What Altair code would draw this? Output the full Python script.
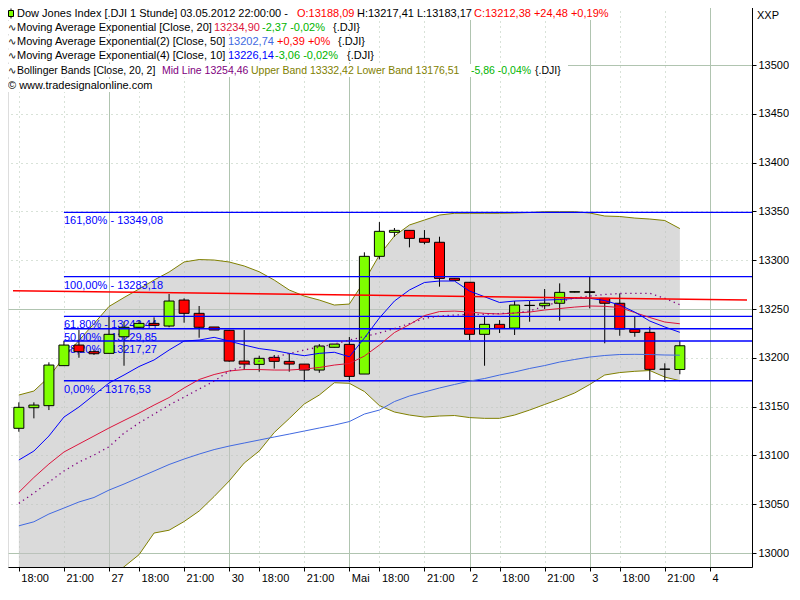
import json
import altair as alt
import pandas as pd

# ---------------- data ----------------
bar_index = list(range(45))
opens = [13127.8, 13148.9, 13151.0, 13192.0, 13213.1, 13206.3, 13204.6, 13221.6, 13231.3, 13235.3,
         13232.6, 13259.2, 13245.6, 13231.6, 13228.2, 13196.7, 13193.3, 13200.5, 13196.4, 13193.6,
         13187.5, 13210.8, 13213.8, 13183.4, 13304.0, 13328.6, 13330.6, 13322.4, 13318.4, 13281.5,
         13277.4, 13224.1, 13234.3, 13230.5, 13253.8, 13253.4, 13255.9, 13267.3, 13267.7, 13261.0,
         13255.9, 13229.2, 13226.1, 13188.2, 13188.09]
highs = [13154.4, 13154.4, 13195.4, 13217.5, 13228.5, 13208.0, 13243.1, 13237.0, 13238.0, 13241.5,
         13265.4, 13261.0, 13253.1, 13231.6, 13228.5, 13228.5, 13202.2, 13202.9, 13204.6, 13193.6,
         13214.1, 13214.1, 13221.3, 13308.1, 13339.1, 13333.0, 13330.6, 13330.9, 13324.1, 13281.5,
         13277.4, 13242.1, 13238.7, 13258.2, 13258.2, 13270.5, 13276.3, 13268.0, 13283.1, 13261.0,
         13266.0, 13242.1, 13231.9, 13194.4, 13217.41]
lows = [13124.3, 13138.0, 13146.5, 13192.0, 13200.1, 13203.0, 13204.6, 13191.9, 13230.0, 13232.6,
        13231.3, 13236.0, 13220.6, 13228.5, 13196.0, 13187.5, 13185.8, 13189.0, 13185.8, 13175.5,
        13184.7, 13210.8, 13175.5, 13183.4, 13300.9, 13324.1, 13313.2, 13316.3, 13272.9, 13279.0,
        13218.2, 13191.9, 13225.4, 13223.4, 13237.0, 13250.0, 13238.0, 13267.0, 13250.7, 13214.9,
        13222.6, 13221.6, 13177.3, 13175.5, 13183.17]
closes = [13149.3, 13151.6, 13192.6, 13213.1, 13206.3, 13204.2, 13224.1, 13231.3, 13235.3, 13233.3,
          13258.2, 13245.6, 13231.3, 13228.5, 13196.7, 13193.6, 13199.5, 13196.4, 13193.6, 13187.5,
          13212.1, 13214.1, 13181.0, 13304.0, 13329.6, 13330.6, 13322.4, 13318.4, 13281.4, 13279.4,
          13224.1, 13234.3, 13230.2, 13254.1, 13253.6, 13255.9, 13267.1, 13267.8, 13267.0, 13255.9,
          13229.5, 13226.1, 13188.2, 13188.5, 13212.38]

ema10 = [13095.3, 13104.5, 13119.9, 13139.3, 13149.6, 13161.9, 13174.2, 13182.4, 13191.1, 13197.8,
         13208.0, 13217.2, 13218.2, 13221.0, 13217.2, 13213.1, 13209.5, 13207.5, 13204.6, 13202.2,
         13204.6, 13205.7, 13201.1, 13220.3, 13240.8, 13258.2, 13269.5, 13277.2, 13278.7, 13278.7,
         13268.4, 13262.6, 13256.7, 13258.2, 13258.7, 13259.2, 13259.7, 13261.0, 13261.0, 13258.7,
         13254.1, 13246.9, 13237.7, 13231.6, 13226.14]
ema20 = [13062.2, 13077.4, 13091.2, 13103.5, 13111.7, 13119.9, 13128.1, 13135.8, 13143.4, 13151.6,
         13159.3, 13169.1, 13177.8, 13182.9, 13186.5, 13188.0, 13188.0, 13187.5, 13187.5, 13188.5,
         13190.1, 13192.6, 13194.2, 13201.8, 13213.1, 13225.9, 13234.1, 13243.3, 13247.4, 13247.9,
         13246.9, 13245.6, 13244.9, 13245.9, 13246.9, 13249.0, 13250.5, 13252.0, 13253.1, 13252.8,
         13251.5, 13246.4, 13241.3, 13236.7, 13234.90]
ema50 = [13027.9, 13032.0, 13040.0, 13046.1, 13052.3, 13056.9, 13064.5, 13070.7, 13077.4, 13084.0,
         13090.7, 13096.3, 13101.4, 13106.0, 13109.6, 13112.7, 13115.8, 13118.9, 13121.9, 13125.0,
         13128.1, 13131.1, 13134.7, 13142.4, 13146.5, 13155.2, 13160.9, 13165.0, 13169.1, 13172.7,
         13176.2, 13178.8, 13182.4, 13185.5, 13189.1, 13192.1, 13195.7, 13198.3, 13200.8, 13202.4,
         13203.4, 13203.6, 13203.4, 13202.9, 13202.74]
bb_mid = [13050.9, 13061.5, 13072.7, 13084.0, 13093.2, 13100.4, 13108.9, 13122.9, 13133.2, 13142.4,
          13151.6, 13159.8, 13168.0, 13176.2, 13186.5, 13191.6, 13196.7, 13200.8, 13204.4, 13208.0,
          13211.1, 13214.1, 13218.2, 13221.8, 13225.4, 13230.0, 13235.1, 13240.3, 13242.8, 13243.9,
          13244.4, 13244.6, 13245.4, 13245.9, 13248.0, 13253.1, 13257.7, 13261.3, 13263.3, 13264.9,
          13265.9, 13266.1, 13266.1, 13261.0, 13254.46]
bb_upper = [13161.9, 13166.0, 13180.3, 13200.8, 13217.8, 13235.0, 13252.6, 13261.8, 13270.5, 13279.7,
            13287.9, 13298.2, 13300.7, 13300.2, 13298.2, 13294.1, 13288.2, 13279.7, 13269.5, 13263.3,
            13259.2, 13254.1, 13255.1, 13278.7, 13305.3, 13324.8, 13336.1, 13341.2, 13346.3, 13348.1,
            13348.1, 13348.1, 13348.1, 13348.4, 13348.9, 13349.7, 13349.7, 13349.7, 13348.4, 13345.3,
            13344.8, 13343.2, 13342.2, 13340.7, 13332.42]
bb_lower = [12940.0, 12950.0, 12955.0, 12958.0, 12962.0, 12966.0, 12973.4, 12985.9, 12998.3, 13020.5,
            13023.4, 13032.3, 13043.0, 13057.9, 13073.8, 13092.2, 13104.5, 13123.5, 13137.8, 13152.7,
            13161.9, 13174.5, 13173.9, 13165.5, 13151.1, 13144.5, 13141.4, 13139.3, 13140.4, 13140.9,
            13138.8, 13138.0, 13138.0, 13141.4, 13146.5, 13152.2, 13157.8, 13164.0, 13172.7, 13182.4,
            13184.9, 13186.2, 13187.0, 13180.3, 13176.51]

# red regression-like line (left edge -> right edge)
trend_index = [-0.39, 48.47]
trend_value = [13268.8, 13259.2]

# Fibonacci retracement levels
fib_pct = ["161,80%", "100,00%", "61,80%", "50,00%", "38,20%", "0,00%"]
fib_value = [13349.08, 13283.18, 13242.44, 13229.85, 13217.27, 13176.53]
fib_start = [3, 3, 3, 3, 3, 3]

# axis ticks
x_tick_index = [0, 3, 6, 8, 11, 14, 16, 19, 22, 24, 27, 30, 32, 35, 38, 40, 43, 46]
x_tick_label = ["18:00", "21:00", "27", "18:00", "21:00", "30", "18:00", "21:00", "Mai",
                "18:00", "21:00", "2", "18:00", "21:00", "3", "18:00", "21:00", "4"]
y_tick_values = [13000, 13050, 13100, 13150, 13200, 13250, 13300, 13350, 13400, 13450, 13500]

# header texts: (line, text, colour name)
header_texts = [
    (0, "Dow Jones Index [.DJI  1 Stunde] 03.05.2012 22:00:00 -", "black"),
    (0, "O:13188,09", "red"),
    (0, "H:13217,41 L:13183,17", "black"),
    (0, "C:13212,38 +24,48 +0,19%", "red"),
    (1, "∿", "black"),
    (1, "Moving Average Exponential [Close, 20]", "black"),
    (1, "13234,90", "crimson"),
    (1, "-2,37 -0,02%", "green"),
    (1, "{.DJI}", "black"),
    (2, "∿", "black"),
    (2, "Moving Average Exponential(2) [Close, 50]", "black"),
    (2, "13202,74", "royal"),
    (2, "+0,39 +0%", "red"),
    (2, "{.DJI}", "black"),
    (3, "∿", "black"),
    (3, "Moving Average Exponential(4) [Close, 10]", "black"),
    (3, "13226,14", "blue"),
    (3, "-3,06 -0,02%", "green"),
    (3, "{.DJI}", "black"),
    (4, "∿", "black"),
    (4, "Bollinger Bands [Close, 20, 2]", "black"),
    (4, "Mid Line 13254,46", "purple"),
    (4, "Upper Band 13332,42 Lower Band 13176,51", "olive"),
    (4, "-5,86 -0,04%", "green"),
    (4, "{.DJI}", "black"),
    (5, "© www.tradesignalonline.com", "black"),
]

# ---------------- layout / style ----------------
W, H = 744, 566
X_DOMAIN = [-0.39, 48.47]
Y_DOMAIN = [12985.7, 13565.6]
FONT = "Liberation Sans"
COLORS = {"black": "#000000", "red": "#ff0000", "crimson": "#dc143c", "green": "#00b400",
          "royal": "#4169e1", "blue": "#0000ff", "purple": "#800080", "olive": "#808000"}
header_x = [9, 289, 349, 466,
            0, 9, 206, 254, 325,
            0, 9, 220, 269, 330,
            0, 9, 220, 267, 339,
            0, 9, 154, 243, 463, 527,
            0]
line_y = [12.5, 26.5, 41, 55, 69.5, 84.5]
line_size = [11, 11, 11, 11, 10.5, 11]
row_end = [610, 358, 362, 370, 560, 142]   # white box behind each header row
GRID = "#b0c4b0"

candles = pd.DataFrame({"i": bar_index, "open": opens, "high": highs, "low": lows, "close": closes})
ind = pd.DataFrame({"i": bar_index, "ema10": ema10, "ema20": ema20, "ema50": ema50,
                    "mid": bb_mid, "upper": bb_upper, "lower": bb_lower})
trend = pd.DataFrame({"i": trend_index, "v": trend_value})
fib = pd.DataFrame({"start": fib_start, "v": fib_value,
                    "label": [f"{p} - {v:.2f}".replace(".", ",") for p, v in zip(fib_pct, fib_value)]})

label_expr = f"{json.dumps(x_tick_label)}[indexof({json.dumps(x_tick_index)}, datum.value)]"

x_axis = alt.Axis(values=x_tick_index, labelExpr=label_expr, title=None, grid=True,
                  gridColor=GRID, gridWidth=1,
                  gridDash={"condition": {"test": "(datum.value + 2) % 8 === 0", "value": []},
                            "value": [1, 4]},
                  tickSize=4, tickColor="black", domainColor="black",
                  labelAlign="left", labelBaseline="top", labelPadding=1, labelOffset=2,
                  labelFont=FONT, labelFontSize=11, labelColor="black",
                  labelOverlap=False, labelFlush=False, labelBound=False)
y_axis = alt.Axis(orient="right", values=y_tick_values, format="d", title=None, grid=True,
                  gridColor=GRID, gridWidth=1,
                  gridDash={"condition": {"test": "datum.value % 250 === 0", "value": []},
                            "value": [1, 4]},
                  tickSize=4, tickColor="black", domainColor="black", labelPadding=2,
                  labelFont=FONT, labelFontSize=11, labelColor="black",
                  labelOverlap=False, labelFlush=False, labelBound=False)

xs = alt.Scale(domain=X_DOMAIN, nice=False, zero=False)
ys = alt.Scale(domain=Y_DOMAIN, nice=False, zero=False)


def X(field):
    return alt.X(field, scale=xs, axis=x_axis, title=None)


def Y(field):
    return alt.Y(field, scale=ys, axis=y_axis, title=None)


band = alt.Chart(ind).mark_area(color="#c2c2c2", opacity=0.6, clip=True).encode(
    x=X("i:Q"), y=Y("lower:Q"), y2="upper:Q")
band_lines = [
    alt.Chart(ind).mark_line(color="#808000", strokeWidth=1, clip=True).encode(x=X("i:Q"), y=Y(f"{f}:Q"))
    for f in ("upper", "lower")
]
fib_labels = alt.Chart(fib).mark_text(align="left", baseline="alphabetic", dy=12, color="#0000ff",
                                      font=FONT, fontSize=11).encode(
    x=X("start:Q"), y=Y("v:Q"), text="label:N")
wicks = alt.Chart(candles).mark_rule(color="black", strokeWidth=1).encode(
    x=X("i:Q"), y=Y("low:Q"), y2="high:Q")
bodies = alt.Chart(candles).mark_bar(width=10, stroke="black", strokeWidth=1).encode(
    x=X("i:Q"), y=Y("open:Q"), y2="close:Q",
    color=alt.condition("datum.close >= datum.open", alt.value("#7fff00"), alt.value("#ff0000")))
fib_lines = alt.Chart(fib).mark_rule(color="#0000ff", strokeWidth=1.4).encode(
    x=X("start:Q"), x2=alt.value(W), y=Y("v:Q"))
ema_lines = [
    alt.Chart(ind).mark_line(color="#4169e1", strokeWidth=1, clip=True).encode(x=X("i:Q"), y=Y("ema50:Q")),
    alt.Chart(ind).mark_line(color="#dc143c", strokeWidth=1, clip=True).encode(x=X("i:Q"), y=Y("ema20:Q")),
    alt.Chart(ind).mark_line(color="#800080", strokeWidth=1.3, strokeDash=[1.3, 3.7], clip=True).encode(
        x=X("i:Q"), y=Y("mid:Q")),
    alt.Chart(ind).mark_line(color="#0000ff", strokeWidth=1, clip=True).encode(x=X("i:Q"), y=Y("ema10:Q")),
]
trend_line = alt.Chart(trend).mark_line(color="#ff0000", strokeWidth=1.4, clip=True).encode(
    x=X("i:Q"), y=Y("v:Q"))

one = pd.DataFrame({"a": [0]})
row_boxes = [
    alt.Chart(one).mark_rect(fill="white").encode(
        x=alt.value(0), x2=alt.value(end), y=alt.value(cy - 6.5), y2=alt.value(cy + 6.5))
    for cy, end in zip(line_y, row_end)
]
texts = []
for (ln, txt, col), px in zip(header_texts, header_x):
    size = 10 if txt == "∿" else line_size[ln]
    texts.append(alt.Chart(one).mark_text(align="left", baseline="middle", font=FONT, fontSize=size,
                                          color=COLORS[col], text=txt).encode(
        x=alt.value(px), y=alt.value(line_y[ln])))
icon_wick = alt.Chart(one).mark_rule(color="black").encode(
    x=alt.value(3), y=alt.value(7.5), y2=alt.value(17.5))
icon_body = alt.Chart(one).mark_rect(fill="#7fff00", stroke="black", strokeWidth=1).encode(
    x=alt.value(0.5), x2=alt.value(5.5), y=alt.value(9.5), y2=alt.value(15.5))
xxp = alt.Chart(one).mark_text(align="left", baseline="middle", font=FONT, fontSize=11,
                               color="black", text="XXP").encode(x=alt.value(749), y=alt.value(15))

chart = alt.layer(
    band, *band_lines, fib_labels, wicks, bodies, fib_lines, *ema_lines, trend_line,
    *row_boxes, *texts, icon_wick, icon_body, xxp
).properties(
    width=W, height=H, padding={"left": 0, "top": -7, "right": 0, "bottom": 0}
).configure_view(
    stroke="black", strokeWidth=1, fill="#f5f5f5"
).configure(background="white")

chart.save("out.html", embed_options={"renderer": "svg", "actions": False})
